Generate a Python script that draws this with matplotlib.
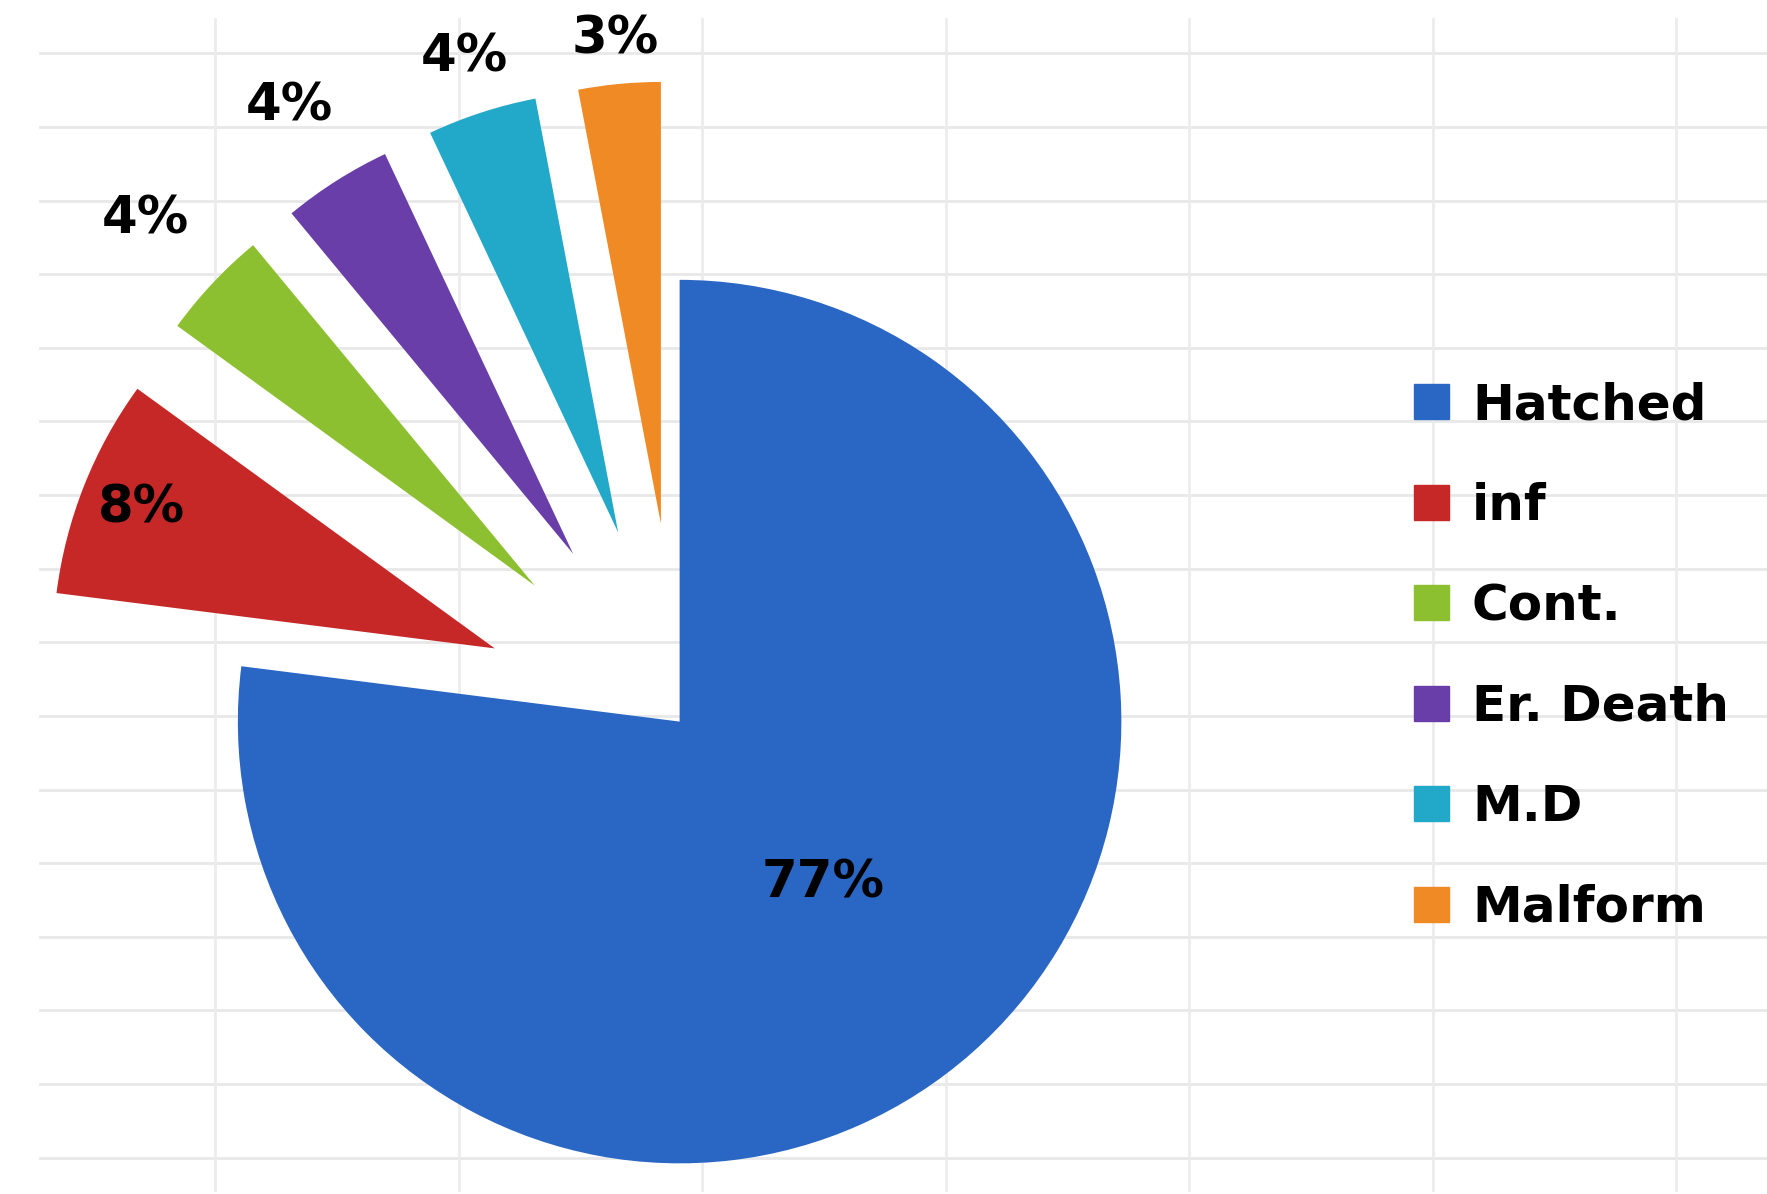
import numpy as np
import matplotlib
matplotlib.use("Agg")
import matplotlib.pyplot as plt
from matplotlib.patches import Patch

labels = ["Hatched", "inf", "Cont.", "Er. Death", "M.D", "Malform"]
values = [77, 8, 4, 4, 4, 3]
colors = ["#2a66c4", "#c62828", "#8dc030", "#6a3ea8", "#22a8c8", "#f08a24"]

W, H = 1560, 1050
fig = plt.figure(figsize=(17.67, 11.94), dpi=100)
ax = fig.add_axes([0, 0, 1, 1])
ax.set_xlim(0, W)
ax.set_ylim(0, H)
ax.set_aspect("equal")
ax.axis("off")

# spreadsheet-like background grid
for y in np.arange(H - 45, 0, -65):
    ax.plot([35, W], [y, y], color="#e8e8e8", lw=2, zorder=0)
for x in [190, 405, 620, 835, 1050, 1265, 1480]:
    ax.plot([x, x], [0, H - 15], color="#ececec", lw=2, zorder=0)

cx, cy, R = 600, 415, 390
explode = [0] + [0.45 * R] * 5
wedges, _ = ax.pie(values, colors=colors, startangle=90, counterclock=False,
                   explode=explode, radius=R, center=(cx, cy),
                   wedgeprops=dict(linewidth=0))
ax.set_xlim(0, W)
ax.set_ylim(0, H)

label_r = [0.49, 1.31, 1.66, 1.65, 1.58, 1.55]
for i, w in enumerate(wedges):
    ang = np.deg2rad((w.theta1 + w.theta2) / 2)
    r = label_r[i]
    ax.text(cx + r * R * np.cos(ang), cy + r * R * np.sin(ang), f"{values[i]}%",
            ha="center", va="center", fontsize=37, fontweight="bold", color="black")

handles = [Patch(color=c) for c in colors]
ax.legend(handles, labels, loc="center left", bbox_to_anchor=(0.775, 0.45),
          frameon=False, handlelength=0.7, handleheight=0.7,
          labelspacing=1.05, handletextpad=0.45, prop=dict(size=36, weight="bold"))

fig.savefig("out.png", dpi=100, facecolor="white")
